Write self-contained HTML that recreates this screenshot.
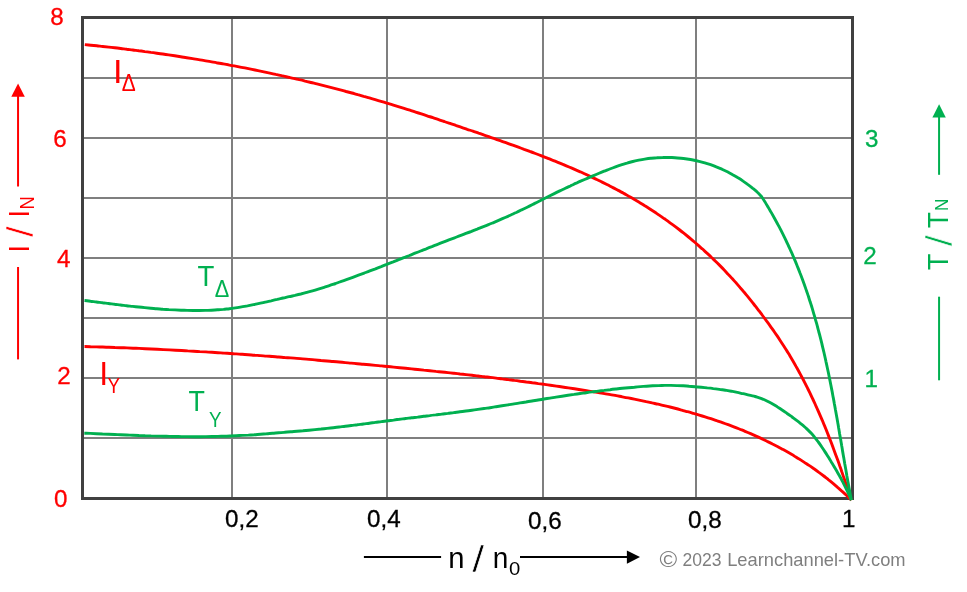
<!DOCTYPE html>
<html lang="de">
<head>
<meta charset="utf-8">
<title>I / I_N und T / T_N über n / n_0</title>
<style>
html,body{margin:0;padding:0;background:#fff;}
body{width:967px;height:592px;overflow:hidden;}
svg{display:block;}
text{font-family:"Liberation Sans",sans-serif;}
</style>
</head>
<body>
<svg width="967" height="592" viewBox="0 0 967 592">
<rect x="0" y="0" width="967" height="592" fill="#ffffff"/>
<!-- grid -->
<g stroke="#7F7F7F" stroke-width="2" fill="none">
<path d="M232 18V498M387 18V498M543 18V498M696 18V498"/>
<path d="M83 78H852M83 138H852M83 198H852M83 258H852M83 318H852M83 378H852M83 438H852"/>
</g>
<!-- frame -->
<rect x="82.5" y="17.5" width="770" height="481" fill="none" stroke="#404040" stroke-width="3"/>
<!-- curves -->
<g fill="none" stroke-width="2.9" stroke-linecap="butt" stroke-linejoin="round">
<path stroke="#FF0000" d="M84.8 44.6C85.8 44.7 88.8 45.0 90.8 45.2C92.8 45.4 94.8 45.6 96.8 45.8C98.8 46.0 100.8 46.3 102.8 46.5C104.8 46.7 106.8 46.9 108.8 47.1C110.8 47.4 112.8 47.6 114.8 47.8C116.8 48.1 118.8 48.3 120.8 48.5C122.8 48.8 124.8 49.0 126.8 49.3C128.8 49.5 130.8 49.8 132.8 50.0C134.8 50.3 136.8 50.5 138.8 50.8C140.8 51.0 142.8 51.3 144.8 51.6C146.8 51.8 148.8 52.1 150.8 52.4C152.8 52.6 154.8 52.9 156.8 53.2C158.8 53.5 160.8 53.8 162.8 54.0C164.8 54.3 166.7 54.6 168.7 54.9C170.7 55.2 172.7 55.5 174.7 55.8C176.7 56.1 178.7 56.4 180.7 56.7C182.7 57.0 184.7 57.4 186.7 57.7C188.6 58.0 190.6 58.3 192.6 58.6C194.6 58.9 196.6 59.3 198.6 59.6C200.6 59.9 202.6 60.3 204.5 60.6C206.5 60.9 208.5 61.3 210.5 61.6C212.5 62.0 214.5 62.3 216.4 62.7C218.4 63.0 220.4 63.4 222.4 63.7C224.4 64.1 226.3 64.5 228.3 64.8C230.3 65.2 232.3 65.6 234.3 65.9C236.2 66.3 238.2 66.7 240.2 67.1C242.2 67.5 244.1 67.8 246.1 68.2C248.1 68.6 250.1 69.0 252.0 69.4C254.0 69.8 256.0 70.2 258.0 70.6C259.9 71.0 261.9 71.4 263.9 71.8C265.8 72.3 267.8 72.7 269.8 73.1C271.8 73.5 273.7 73.9 275.7 74.4C277.7 74.8 279.6 75.2 281.6 75.7C283.6 76.1 285.5 76.5 287.5 77.0C289.4 77.4 291.4 77.9 293.4 78.3C295.3 78.8 297.3 79.2 299.3 79.7C301.2 80.1 303.2 80.6 305.1 81.1C307.1 81.5 309.0 82.0 311.0 82.5C313.0 83.0 314.9 83.4 316.9 83.9C318.8 84.4 320.8 84.9 322.7 85.4C324.7 85.9 326.6 86.4 328.6 86.9C330.5 87.4 332.5 87.9 334.4 88.4C336.4 88.9 338.3 89.4 340.3 89.9C342.2 90.4 344.2 90.9 346.1 91.5C348.1 92.0 350.0 92.5 351.9 93.0C353.9 93.6 355.8 94.1 357.8 94.7C359.7 95.2 361.6 95.7 363.6 96.3C365.5 96.8 367.5 97.4 369.4 97.9C371.3 98.5 373.3 99.1 375.2 99.6C377.1 100.2 379.1 100.8 381.0 101.3C382.9 101.9 384.9 102.5 386.8 103.1C388.7 103.6 390.6 104.2 392.6 104.8C394.5 105.4 396.4 106.0 398.3 106.6C400.3 107.2 402.2 107.8 404.1 108.4C406.0 109.0 408.0 109.6 409.9 110.2C411.8 110.8 413.7 111.5 415.6 112.1C417.5 112.7 419.5 113.3 421.4 113.9C423.3 114.6 425.2 115.2 427.1 115.8C429.0 116.4 431.0 117.1 432.9 117.7C434.8 118.3 436.7 119.0 438.6 119.6C440.5 120.2 442.4 120.9 444.3 121.5C446.2 122.2 448.2 122.8 450.1 123.4C452.0 124.1 453.9 124.7 455.8 125.4C457.7 126.0 459.6 126.7 461.5 127.3C463.4 128.0 465.3 128.6 467.2 129.3C469.1 129.9 471.0 130.6 472.9 131.2C474.8 131.9 476.7 132.5 478.6 133.2C480.5 133.8 482.4 134.5 484.3 135.2C486.2 135.8 488.1 136.5 490.0 137.1C491.9 137.8 493.8 138.4 495.7 139.1C497.6 139.8 499.5 140.4 501.4 141.1C503.3 141.8 505.2 142.4 507.1 143.1C509.0 143.8 510.9 144.5 512.8 145.1C514.7 145.8 516.5 146.5 518.4 147.2C520.3 147.9 522.2 148.6 524.1 149.3C526.0 149.9 527.9 150.6 529.8 151.4C531.6 152.1 533.5 152.8 535.4 153.5C537.3 154.2 539.2 154.9 541.0 155.6C542.9 156.4 544.8 157.1 546.7 157.8C548.6 158.6 550.4 159.3 552.3 160.1C554.2 160.8 556.0 161.6 557.9 162.3C559.8 163.1 561.6 163.9 563.5 164.6C565.4 165.4 567.2 166.2 569.1 167.0C570.9 167.8 572.8 168.6 574.6 169.4C576.5 170.2 578.3 171.0 580.2 171.8C582.0 172.7 583.9 173.5 585.7 174.3C587.5 175.2 589.4 176.0 591.2 176.9C593.0 177.7 594.8 178.6 596.7 179.5C598.5 180.4 600.3 181.2 602.1 182.1C603.9 183.0 605.7 183.9 607.5 184.8C609.3 185.7 611.1 186.7 612.9 187.6C614.7 188.5 616.5 189.5 618.2 190.4C620.0 191.4 621.8 192.3 623.6 193.3C625.3 194.3 627.1 195.3 628.8 196.3C630.6 197.2 632.3 198.2 634.1 199.3C635.8 200.3 637.5 201.3 639.2 202.3C641.0 203.4 642.7 204.4 644.4 205.5C646.1 206.5 647.8 207.6 649.5 208.7C651.2 209.8 652.9 210.9 654.6 212.0C656.2 213.1 657.9 214.2 659.6 215.4C661.2 216.5 662.9 217.6 664.5 218.8C666.2 220.0 667.8 221.1 669.4 222.3C671.0 223.5 672.7 224.7 674.3 225.9C675.9 227.1 677.5 228.3 679.1 229.5C680.7 230.8 682.2 232.0 683.8 233.2C685.4 234.5 687.0 235.8 688.5 237.0C690.1 238.3 691.6 239.6 693.1 240.9C694.7 242.2 696.2 243.5 697.7 244.8C699.2 246.1 700.7 247.5 702.2 248.8C703.7 250.2 705.2 251.5 706.7 252.9C708.2 254.2 709.7 255.6 711.1 257.0C712.6 258.4 714.0 259.8 715.5 261.2C716.9 262.6 718.3 264.0 719.7 265.4C721.2 266.9 722.6 268.3 724.0 269.8C725.4 271.2 726.7 272.7 728.1 274.2C729.5 275.6 730.9 277.1 732.2 278.6C733.6 280.1 734.9 281.6 736.3 283.1C737.6 284.6 738.9 286.1 740.2 287.7C741.6 289.2 742.9 290.7 744.2 292.3C745.5 293.8 746.7 295.4 748.0 296.9C749.3 298.5 750.6 300.1 751.8 301.6C753.1 303.2 754.3 304.8 755.6 306.4C756.8 308.0 758.1 309.6 759.3 311.2C760.5 312.8 761.7 314.4 762.9 316.0C764.1 317.6 765.3 319.2 766.5 320.9C767.7 322.5 768.9 324.1 770.1 325.8C771.2 327.4 772.4 329.0 773.6 330.7C774.7 332.4 775.8 334.0 777.0 335.7C778.1 337.3 779.2 339.0 780.3 340.7C781.4 342.4 782.5 344.1 783.6 345.7C784.7 347.4 785.8 349.1 786.8 350.8C787.9 352.6 789.0 354.3 790.0 356.0C791.0 357.7 792.0 359.4 793.1 361.2C794.1 362.9 795.1 364.7 796.0 366.4C797.0 368.2 798.0 369.9 799.0 371.7C799.9 373.4 800.9 375.2 801.8 377.0C802.8 378.8 803.7 380.5 804.6 382.3C805.5 384.1 806.4 385.9 807.3 387.7C808.2 389.5 809.1 391.3 810.0 393.1C810.8 394.9 811.7 396.8 812.6 398.6C813.4 400.4 814.3 402.2 815.1 404.0C815.9 405.9 816.8 407.7 817.6 409.6C818.4 411.4 819.2 413.2 820.0 415.1C820.8 416.9 821.6 418.8 822.4 420.6C823.1 422.5 823.9 424.4 824.7 426.2C825.5 428.1 826.2 430.0 827.0 431.8C827.7 433.7 828.5 435.6 829.2 437.5C829.9 439.3 830.7 441.2 831.4 443.1C832.1 445.0 832.8 446.9 833.5 448.7C834.2 450.6 834.9 452.5 835.6 454.4C836.3 456.3 837.0 458.2 837.7 460.1C838.4 462.0 839.1 463.9 839.7 465.8C840.4 467.7 841.1 469.6 841.7 471.5C842.4 473.4 843.0 475.3 843.7 477.2C844.4 479.1 845.0 481.0 845.7 482.9C846.3 484.8 846.9 486.7 847.6 488.7C848.2 490.6 848.8 492.5 849.5 494.4C850.1 496.3 851.0 499.1 851.3 500.1"/>
<path stroke="#FF0000" d="M84.5 346.5C85.5 346.5 88.5 346.6 90.6 346.7C92.6 346.7 94.6 346.8 96.6 346.9C98.7 346.9 100.7 347.0 102.7 347.0C104.7 347.1 106.8 347.2 108.8 347.2C110.8 347.3 112.8 347.4 114.9 347.5C116.9 347.5 118.9 347.6 120.9 347.7C122.9 347.8 125.0 347.8 127.0 347.9C129.0 348.0 131.0 348.1 133.1 348.2C135.1 348.3 137.1 348.3 139.1 348.4C141.2 348.5 143.2 348.6 145.2 348.7C147.2 348.8 149.2 348.9 151.3 349.0C153.3 349.1 155.3 349.2 157.3 349.3C159.4 349.4 161.4 349.5 163.4 349.6C165.4 349.7 167.4 349.8 169.5 349.9C171.5 350.0 173.5 350.1 175.5 350.2C177.6 350.3 179.6 350.4 181.6 350.5C183.6 350.6 185.6 350.7 187.7 350.9C189.7 351.0 191.7 351.1 193.7 351.2C195.8 351.3 197.8 351.4 199.8 351.6C201.8 351.7 203.8 351.8 205.9 351.9C207.9 352.1 209.9 352.2 211.9 352.3C213.9 352.4 216.0 352.6 218.0 352.7C220.0 352.8 222.0 353.0 224.0 353.1C226.1 353.2 228.1 353.4 230.1 353.5C232.1 353.6 234.1 353.8 236.2 353.9C238.2 354.0 240.2 354.2 242.2 354.3C244.3 354.5 246.3 354.6 248.3 354.7C250.3 354.9 252.3 355.0 254.4 355.2C256.4 355.3 258.4 355.5 260.4 355.6C262.4 355.8 264.5 355.9 266.5 356.1C268.5 356.2 270.5 356.4 272.5 356.5C274.5 356.7 276.6 356.8 278.6 357.0C280.6 357.2 282.6 357.3 284.6 357.5C286.7 357.6 288.7 357.8 290.7 357.9C292.7 358.1 294.7 358.3 296.8 358.4C298.8 358.6 300.8 358.8 302.8 358.9C304.8 359.1 306.8 359.3 308.9 359.4C310.9 359.6 312.9 359.8 314.9 359.9C316.9 360.1 319.0 360.3 321.0 360.5C323.0 360.6 325.0 360.8 327.0 361.0C329.0 361.2 331.1 361.3 333.1 361.5C335.1 361.7 337.1 361.9 339.1 362.0C341.1 362.2 343.2 362.4 345.2 362.6C347.2 362.8 349.2 362.9 351.2 363.1C353.2 363.3 355.3 363.5 357.3 363.7C359.3 363.9 361.3 364.0 363.3 364.2C365.3 364.4 367.4 364.6 369.4 364.8C371.4 365.0 373.4 365.2 375.4 365.4C377.4 365.6 379.5 365.7 381.5 365.9C383.5 366.1 385.5 366.3 387.5 366.5C389.5 366.7 391.6 366.9 393.6 367.1C395.6 367.3 397.6 367.5 399.6 367.7C401.6 367.9 403.6 368.1 405.7 368.3C407.7 368.5 409.7 368.7 411.7 368.9C413.7 369.1 415.7 369.3 417.7 369.5C419.8 369.7 421.8 369.9 423.8 370.1C425.8 370.3 427.8 370.5 429.8 370.7C431.8 370.9 433.8 371.1 435.9 371.4C437.9 371.6 439.9 371.8 441.9 372.0C443.9 372.2 445.9 372.4 447.9 372.6C449.9 372.9 452.0 373.1 454.0 373.3C456.0 373.5 458.0 373.7 460.0 374.0C462.0 374.2 464.0 374.4 466.0 374.6C468.1 374.9 470.1 375.1 472.1 375.3C474.1 375.5 476.1 375.8 478.1 376.0C480.1 376.2 482.1 376.5 484.1 376.7C486.1 376.9 488.2 377.2 490.2 377.4C492.2 377.7 494.2 377.9 496.2 378.1C498.2 378.4 500.2 378.6 502.2 378.9C504.2 379.1 506.2 379.4 508.2 379.6C510.2 379.9 512.3 380.1 514.3 380.4C516.3 380.6 518.3 380.9 520.3 381.2C522.3 381.4 524.3 381.7 526.3 382.0C528.3 382.2 530.3 382.5 532.3 382.8C534.3 383.0 536.3 383.3 538.3 383.6C540.3 383.8 542.3 384.1 544.4 384.4C546.4 384.7 548.4 385.0 550.4 385.2C552.4 385.5 554.4 385.8 556.4 386.1C558.4 386.4 560.4 386.7 562.4 387.0C564.4 387.3 566.4 387.6 568.4 387.9C570.4 388.2 572.4 388.5 574.4 388.8C576.4 389.1 578.4 389.4 580.4 389.7C582.4 390.0 584.4 390.3 586.4 390.6C588.4 391.0 590.4 391.3 592.4 391.6C594.4 391.9 596.4 392.3 598.4 392.6C600.4 392.9 602.4 393.3 604.4 393.6C606.4 393.9 608.4 394.3 610.4 394.6C612.4 395.0 614.4 395.3 616.4 395.7C618.3 396.1 620.3 396.4 622.3 396.8C624.3 397.2 626.3 397.6 628.3 397.9C630.3 398.3 632.3 398.7 634.3 399.1C636.3 399.5 638.3 399.9 640.2 400.3C642.2 400.7 644.2 401.1 646.2 401.6C648.2 402.0 650.2 402.4 652.2 402.9C654.1 403.3 656.1 403.8 658.1 404.2C660.1 404.7 662.1 405.1 664.0 405.6C666.0 406.1 668.0 406.6 670.0 407.0C671.9 407.5 673.9 408.0 675.9 408.5C677.8 409.1 679.8 409.6 681.7 410.1C683.7 410.6 685.7 411.2 687.6 411.7C689.6 412.2 691.5 412.8 693.5 413.4C695.4 413.9 697.4 414.5 699.3 415.1C701.2 415.7 703.2 416.3 705.1 416.9C707.0 417.5 709.0 418.1 710.9 418.7C712.8 419.4 714.7 420.0 716.7 420.7C718.6 421.3 720.5 422.0 722.4 422.6C724.3 423.3 726.2 424.0 728.1 424.7C730.0 425.4 731.9 426.1 733.8 426.8C735.7 427.6 737.5 428.3 739.4 429.0C741.3 429.8 743.2 430.5 745.0 431.3C746.9 432.1 748.7 432.9 750.6 433.7C752.4 434.5 754.3 435.3 756.1 436.1C758.0 437.0 759.8 437.8 761.6 438.6C763.4 439.5 765.3 440.4 767.1 441.3C768.9 442.1 770.7 443.0 772.5 444.0C774.3 444.9 776.1 445.8 777.9 446.7C779.6 447.7 781.4 448.6 783.2 449.6C785.0 450.6 786.7 451.6 788.5 452.6C790.2 453.6 791.9 454.6 793.7 455.6C795.4 456.7 797.1 457.7 798.8 458.8C800.6 459.9 802.3 461.0 804.0 462.1C805.7 463.2 807.3 464.3 809.0 465.4C810.7 466.5 812.4 467.7 814.0 468.8C815.7 470.0 817.3 471.2 818.9 472.4C820.6 473.6 822.2 474.8 823.8 476.0C825.4 477.3 827.0 478.5 828.6 479.8C830.2 481.0 831.7 482.3 833.3 483.6C834.8 484.9 836.4 486.3 837.9 487.6C839.5 488.9 841.0 490.3 842.5 491.7C844.0 493.0 845.5 494.4 847.0 495.8C848.4 497.2 850.6 499.4 851.4 500.1"/>
<path stroke="#00B050" d="M84.5 300.5C85.5 300.6 88.5 301.0 90.5 301.3C92.5 301.5 94.5 301.8 96.5 302.0C98.5 302.3 100.6 302.5 102.6 302.8C104.6 303.0 106.6 303.3 108.6 303.5C110.6 303.8 112.6 304.0 114.6 304.3C116.6 304.5 118.6 304.8 120.6 305.0C122.6 305.2 124.6 305.5 126.6 305.7C128.7 305.9 130.7 306.2 132.7 306.4C134.7 306.6 136.7 306.8 138.7 307.0C140.7 307.2 142.7 307.4 144.7 307.6C146.8 307.8 148.8 308.0 150.8 308.2C152.8 308.4 154.8 308.5 156.8 308.7C158.8 308.9 160.9 309.0 162.9 309.2C164.9 309.3 166.9 309.4 168.9 309.6C171.0 309.7 173.0 309.8 175.0 309.9C177.0 310.0 179.0 310.1 181.1 310.2C183.1 310.3 185.1 310.3 187.1 310.4C189.2 310.5 191.2 310.5 193.2 310.5C195.2 310.5 197.3 310.5 199.3 310.5C201.3 310.5 203.3 310.5 205.3 310.4C207.4 310.4 209.4 310.3 211.4 310.2C213.4 310.1 215.4 310.0 217.4 309.8C219.4 309.7 221.5 309.5 223.5 309.4C225.5 309.2 227.5 308.9 229.5 308.7C231.5 308.5 233.5 308.2 235.5 307.9C237.5 307.6 239.5 307.3 241.5 306.9C243.5 306.6 245.5 306.2 247.5 305.9C249.4 305.5 251.4 305.1 253.4 304.7C255.4 304.3 257.4 303.9 259.4 303.4C261.3 303.0 263.3 302.6 265.3 302.1C267.3 301.7 269.3 301.2 271.2 300.8C273.2 300.3 275.2 299.8 277.2 299.4C279.1 298.9 281.1 298.5 283.1 298.0C285.1 297.6 287.0 297.1 289.0 296.7C291.0 296.3 293.0 295.8 294.9 295.4C296.9 294.9 298.9 294.4 300.8 294.0C302.8 293.5 304.7 293.0 306.7 292.4C308.6 291.9 310.6 291.4 312.5 290.8C314.4 290.3 316.4 289.7 318.3 289.1C320.3 288.5 322.2 287.9 324.1 287.3C326.0 286.7 328.0 286.0 329.9 285.4C331.8 284.8 333.7 284.1 335.6 283.5C337.5 282.8 339.4 282.1 341.4 281.4C343.3 280.8 345.2 280.1 347.1 279.4C349.0 278.7 350.9 278.0 352.8 277.3C354.7 276.6 356.6 275.9 358.5 275.2C360.4 274.5 362.3 273.8 364.2 273.1C366.0 272.4 367.9 271.7 369.8 270.9C371.7 270.2 373.6 269.5 375.5 268.8C377.4 268.0 379.3 267.3 381.2 266.6C383.0 265.8 384.9 265.1 386.8 264.4C388.7 263.6 390.6 262.9 392.5 262.2C394.3 261.4 396.2 260.7 398.1 259.9C400.0 259.2 401.9 258.5 403.7 257.7C405.6 257.0 407.5 256.2 409.4 255.5C411.3 254.7 413.1 254.0 415.0 253.2C416.9 252.5 418.8 251.8 420.6 251.0C422.5 250.3 424.4 249.5 426.3 248.8C428.2 248.0 430.0 247.3 431.9 246.6C433.8 245.8 435.7 245.1 437.6 244.3C439.5 243.6 441.3 242.9 443.2 242.1C445.1 241.4 447.0 240.7 448.9 239.9C450.8 239.2 452.7 238.5 454.6 237.8C456.4 237.1 458.3 236.3 460.2 235.6C462.1 234.9 464.0 234.2 465.9 233.4C467.8 232.7 469.7 232.0 471.5 231.3C473.4 230.5 475.3 229.8 477.2 229.1C479.1 228.3 481.0 227.6 482.8 226.8C484.7 226.1 486.6 225.4 488.5 224.6C490.3 223.8 492.2 223.1 494.1 222.3C496.0 221.5 497.8 220.7 499.7 219.9C501.5 219.1 503.4 218.3 505.2 217.5C507.1 216.7 508.9 215.9 510.8 215.0C512.6 214.2 514.4 213.3 516.3 212.5C518.1 211.6 519.9 210.7 521.7 209.8C523.6 209.0 525.4 208.1 527.2 207.2C529.0 206.3 530.8 205.4 532.6 204.5C534.4 203.6 536.2 202.6 538.1 201.7C539.9 200.8 541.7 199.9 543.5 199.0C545.3 198.1 547.1 197.2 548.9 196.3C550.7 195.4 552.5 194.5 554.3 193.6C556.2 192.7 558.0 191.8 559.8 190.9C561.6 190.0 563.4 189.2 565.3 188.3C567.1 187.4 568.9 186.6 570.8 185.7C572.6 184.9 574.4 184.0 576.3 183.2C578.1 182.3 579.9 181.5 581.8 180.7C583.6 179.9 585.5 179.1 587.3 178.3C589.2 177.5 591.1 176.7 592.9 175.9C594.8 175.1 596.7 174.3 598.5 173.5C600.4 172.8 602.3 172.0 604.1 171.2C606.0 170.5 607.9 169.7 609.8 169.0C611.7 168.3 613.6 167.6 615.5 166.9C617.4 166.2 619.3 165.5 621.2 164.9C623.1 164.3 625.1 163.6 627.0 163.1C628.9 162.5 630.9 162.0 632.8 161.5C634.8 161.0 636.8 160.6 638.8 160.2C640.7 159.8 642.7 159.4 644.7 159.1C646.7 158.8 648.7 158.5 650.7 158.3C652.8 158.1 654.8 157.9 656.8 157.8C658.8 157.6 660.8 157.5 662.8 157.5C664.9 157.4 666.9 157.4 668.9 157.4C670.9 157.5 673.0 157.6 675.0 157.7C677.0 157.8 679.0 158.0 681.0 158.2C683.0 158.4 685.0 158.7 687.0 159.0C689.0 159.3 691.0 159.6 693.0 160.0C695.0 160.4 697.0 160.8 699.0 161.3C700.9 161.8 702.9 162.3 704.8 162.9C706.8 163.5 708.7 164.1 710.6 164.7C712.5 165.4 714.4 166.1 716.3 166.9C718.2 167.6 720.0 168.4 721.9 169.2C723.7 170.1 725.6 170.9 727.4 171.8C729.2 172.8 731.0 173.7 732.7 174.7C734.5 175.7 736.3 176.7 738.0 177.8C739.7 178.8 741.4 179.9 743.1 181.1C744.8 182.2 746.4 183.4 748.0 184.6C749.7 185.8 751.3 187.0 752.8 188.3C754.4 189.6 756.0 190.8 757.4 192.2C758.9 193.6 760.9 195.9 761.6 196.6C762.1 197.5 763.8 200.1 764.9 201.8C766.0 203.6 767.0 205.4 768.1 207.1C769.1 208.9 770.2 210.7 771.2 212.4C772.2 214.2 773.2 216.0 774.2 217.8C775.2 219.6 776.2 221.4 777.2 223.2C778.2 225.0 779.1 226.8 780.1 228.6C781.0 230.4 781.9 232.3 782.9 234.1C783.8 235.9 784.7 237.8 785.6 239.6C786.4 241.4 787.3 243.3 788.2 245.1C789.0 247.0 789.9 248.8 790.7 250.7C791.6 252.6 792.4 254.4 793.2 256.3C794.0 258.2 794.8 260.0 795.6 261.9C796.4 263.8 797.1 265.7 797.9 267.6C798.7 269.5 799.4 271.4 800.1 273.3C800.9 275.2 801.6 277.1 802.3 279.0C803.0 280.9 803.7 282.8 804.4 284.7C805.1 286.6 805.7 288.6 806.4 290.5C807.1 292.4 807.7 294.4 808.4 296.3C809.0 298.2 809.6 300.2 810.2 302.1C810.9 304.0 811.5 306.0 812.1 307.9C812.7 309.9 813.2 311.8 813.8 313.8C814.4 315.8 815.0 317.7 815.5 319.7C816.1 321.6 816.6 323.6 817.2 325.6C817.7 327.6 818.2 329.5 818.7 331.5C819.3 333.5 819.8 335.4 820.3 337.4C820.8 339.4 821.3 341.4 821.8 343.4C822.2 345.4 822.7 347.3 823.2 349.3C823.7 351.3 824.1 353.3 824.6 355.3C825.0 357.3 825.5 359.3 825.9 361.3C826.4 363.3 826.8 365.3 827.2 367.3C827.6 369.3 828.1 371.3 828.5 373.3C828.9 375.3 829.3 377.3 829.7 379.3C830.1 381.3 830.5 383.3 830.9 385.3C831.3 387.3 831.7 389.4 832.1 391.4C832.5 393.4 832.8 395.4 833.2 397.4C833.6 399.4 834.0 401.4 834.3 403.5C834.7 405.5 835.1 407.5 835.4 409.5C835.8 411.5 836.1 413.5 836.5 415.5C836.9 417.6 837.2 419.6 837.6 421.6C837.9 423.6 838.3 425.6 838.6 427.7C839.0 429.7 839.3 431.7 839.6 433.7C840.0 435.7 840.3 437.8 840.7 439.8C841.0 441.8 841.4 443.8 841.7 445.8C842.1 447.8 842.4 449.9 842.7 451.9C843.1 453.9 843.4 455.9 843.8 457.9C844.1 459.9 844.5 462.0 844.8 464.0C845.2 466.0 845.5 468.0 845.9 470.0C846.2 472.0 846.6 474.0 846.9 476.0C847.3 478.1 847.6 480.1 848.0 482.1C848.4 484.1 848.7 486.1 849.1 488.1C849.5 490.1 849.8 492.1 850.2 494.1C850.6 496.1 851.2 499.1 851.4 500.1"/>
<path stroke="#00B050" d="M84.3 433.2C85.3 433.2 88.3 433.4 90.4 433.4C92.4 433.5 94.4 433.6 96.4 433.7C98.5 433.8 100.5 433.9 102.5 434.0C104.5 434.0 106.6 434.1 108.6 434.2C110.6 434.3 112.6 434.4 114.7 434.5C116.7 434.6 118.7 434.6 120.7 434.7C122.8 434.8 124.8 434.9 126.8 435.0C128.8 435.1 130.9 435.1 132.9 435.2C134.9 435.3 136.9 435.4 139.0 435.5C141.0 435.5 143.0 435.6 145.1 435.7C147.1 435.7 149.1 435.8 151.1 435.9C153.2 435.9 155.2 436.0 157.2 436.1C159.2 436.1 161.3 436.2 163.3 436.2C165.3 436.3 167.3 436.3 169.4 436.4C171.4 436.4 173.4 436.5 175.5 436.5C177.5 436.5 179.5 436.6 181.5 436.6C183.6 436.6 185.6 436.6 187.6 436.6C189.6 436.7 191.7 436.7 193.7 436.7C195.7 436.7 197.7 436.7 199.8 436.7C201.8 436.6 203.8 436.6 205.9 436.6C207.9 436.6 209.9 436.6 211.9 436.5C214.0 436.5 216.0 436.4 218.0 436.4C220.0 436.3 222.1 436.3 224.1 436.2C226.1 436.2 228.1 436.1 230.2 436.0C232.2 435.9 234.2 435.8 236.2 435.7C238.2 435.6 240.3 435.5 242.3 435.4C244.3 435.3 246.3 435.2 248.4 435.1C250.4 434.9 252.4 434.8 254.4 434.7C256.5 434.5 258.5 434.4 260.5 434.2C262.5 434.1 264.5 433.9 266.6 433.8C268.6 433.6 270.6 433.5 272.6 433.3C274.6 433.1 276.7 433.0 278.7 432.8C280.7 432.7 282.7 432.5 284.8 432.3C286.8 432.2 288.8 432.0 290.8 431.8C292.8 431.6 294.9 431.5 296.9 431.3C298.9 431.1 300.9 430.9 302.9 430.8C305.0 430.6 307.0 430.4 309.0 430.2C311.0 430.0 313.0 429.8 315.0 429.6C317.1 429.4 319.1 429.2 321.1 429.0C323.1 428.8 325.1 428.6 327.1 428.4C329.2 428.2 331.2 428.0 333.2 427.7C335.2 427.5 337.2 427.3 339.2 427.0C341.2 426.8 343.2 426.5 345.3 426.3C347.3 426.1 349.3 425.8 351.3 425.5C353.3 425.3 355.3 425.0 357.3 424.8C359.3 424.5 361.3 424.3 363.3 424.0C365.4 423.7 367.4 423.5 369.4 423.2C371.4 422.9 373.4 422.7 375.4 422.4C377.4 422.1 379.4 421.9 381.4 421.6C383.4 421.3 385.5 421.1 387.5 420.8C389.5 420.6 391.5 420.3 393.5 420.1C395.5 419.8 397.5 419.5 399.5 419.3C401.5 419.0 403.5 418.8 405.6 418.5C407.6 418.3 409.6 418.0 411.6 417.8C413.6 417.6 415.6 417.3 417.6 417.1C419.6 416.8 421.7 416.6 423.7 416.3C425.7 416.1 427.7 415.8 429.7 415.6C431.7 415.3 433.7 415.1 435.7 414.9C437.8 414.6 439.8 414.4 441.8 414.1C443.8 413.9 445.8 413.6 447.8 413.4C449.8 413.1 451.8 412.9 453.8 412.6C455.9 412.3 457.9 412.1 459.9 411.8C461.9 411.6 463.9 411.3 465.9 411.0C467.9 410.8 469.9 410.5 471.9 410.2C473.9 410.0 475.9 409.7 477.9 409.4C480.0 409.1 482.0 408.8 484.0 408.5C486.0 408.2 488.0 408.0 490.0 407.7C492.0 407.4 494.0 407.1 496.0 406.7C498.0 406.4 500.0 406.1 502.0 405.8C504.0 405.5 506.0 405.2 508.0 404.9C510.0 404.6 512.0 404.2 514.0 403.9C516.0 403.6 518.0 403.3 520.0 402.9C522.0 402.6 524.0 402.3 526.0 402.0C528.0 401.6 530.0 401.3 532.0 401.0C534.0 400.7 536.0 400.3 538.0 400.0C540.0 399.7 542.0 399.4 544.0 399.0C546.0 398.7 548.0 398.4 550.0 398.1C552.0 397.8 554.0 397.4 556.0 397.1C558.0 396.8 560.0 396.5 562.0 396.2C564.0 395.9 566.0 395.6 568.0 395.3C570.1 395.0 572.1 394.7 574.1 394.4C576.1 394.1 578.1 393.8 580.1 393.5C582.1 393.2 584.1 393.0 586.1 392.7C588.1 392.4 590.1 392.1 592.1 391.9C594.1 391.6 596.1 391.4 598.2 391.1C600.2 390.9 602.2 390.6 604.2 390.4C606.2 390.1 608.2 389.9 610.2 389.7C612.2 389.4 614.3 389.2 616.3 389.0C618.3 388.8 620.3 388.6 622.3 388.3C624.3 388.1 626.4 387.9 628.4 387.7C630.4 387.5 632.4 387.3 634.4 387.2C636.4 387.0 638.5 386.8 640.5 386.6C642.5 386.5 644.5 386.3 646.6 386.2C648.6 386.1 650.6 385.9 652.6 385.8C654.6 385.7 656.7 385.6 658.7 385.6C660.7 385.5 662.7 385.5 664.8 385.4C666.8 385.4 668.8 385.4 670.8 385.4C672.9 385.4 674.9 385.5 676.9 385.6C679.0 385.6 681.0 385.7 683.0 385.8C685.0 385.9 687.1 386.0 689.1 386.2C691.1 386.3 693.1 386.5 695.1 386.7C697.2 386.8 699.2 387.0 701.2 387.2C703.2 387.4 705.2 387.6 707.2 387.9C709.3 388.1 711.3 388.3 713.3 388.6C715.3 388.8 717.3 389.1 719.3 389.4C721.3 389.7 723.3 389.9 725.3 390.2C727.3 390.6 729.3 390.9 731.3 391.2C733.3 391.6 735.3 392.0 737.3 392.4C739.3 392.8 741.2 393.3 743.2 393.7C745.2 394.2 747.2 394.6 749.2 395.1C751.1 395.6 753.1 396.0 755.1 396.5C757.0 397.1 759.0 397.6 760.9 398.3C762.8 399.0 764.6 399.8 766.4 400.7C768.2 401.6 770.0 402.5 771.8 403.5C773.5 404.5 775.3 405.6 777.0 406.6C778.7 407.7 780.4 408.9 782.1 410.0C783.8 411.1 785.4 412.3 787.1 413.5C788.8 414.6 790.4 415.8 792.1 417.0C793.7 418.2 795.4 419.4 797.0 420.7C798.6 421.9 800.2 423.2 801.7 424.4C803.3 425.7 804.8 427.1 806.3 428.4C807.8 429.8 809.2 431.2 810.6 432.6C812.0 434.1 813.3 435.6 814.6 437.2C815.9 438.7 817.1 440.3 818.3 442.0C819.6 443.6 820.7 445.3 821.8 447.0C823.0 448.7 824.1 450.4 825.2 452.1C826.3 453.8 827.4 455.6 828.5 457.3C829.5 459.0 830.6 460.7 831.6 462.5C832.7 464.2 833.7 465.9 834.8 467.7C835.8 469.4 836.8 471.2 837.8 472.9C838.8 474.7 839.8 476.4 840.8 478.2C841.7 480.0 842.7 481.8 843.6 483.6C844.5 485.4 845.4 487.2 846.3 489.0C847.2 490.8 848.1 492.6 848.9 494.5C849.7 496.3 850.9 499.2 851.3 500.1"/>
</g>
<!-- left axis numbers -->
<g fill="#FF0000" stroke="#FF0000" stroke-width="0.3" font-size="24.2px">
<text x="50.2" y="25.1">8</text>
<text x="53.2" y="146.9">6</text>
<text x="57" y="266.9">4</text>
<text x="57.3" y="383.9">2</text>
<text x="54" y="506.9">0</text>
</g>
<!-- right axis numbers -->
<g fill="#00B050" stroke="#00B050" stroke-width="0.3" font-size="24.2px">
<text x="865" y="146.9">3</text>
<text x="863.3" y="264">2</text>
<text x="864.5" y="386.9">1</text>
</g>
<!-- x axis numbers -->
<g fill="#000000" stroke="#000000" stroke-width="0.3" font-size="24.2px">
<text x="225" y="527.3">0,2</text>
<text x="367" y="527.3">0,4</text>
<text x="528" y="529.3">0,6</text>
<text x="688" y="528.1">0,8</text>
<text x="842" y="526.9">1</text>
</g>
<!-- left axis title -->
<g stroke="#FF0000" stroke-width="2" fill="#FF0000">
<line x1="18.05" y1="96" x2="18.05" y2="186.5"/>
<line x1="18.05" y1="267" x2="18.05" y2="359.4"/>
<path d="M18.05 83.4L24.8 96.7H11.3Z" stroke="none"/>
</g>
<g><text transform="translate(28.80 252.47) rotate(-90) scale(0.927 1)" font-size="28.92px" fill="#FF0000">I</text> <text transform="translate(32.94 237.00) rotate(-90) scale(1.057 1)" font-size="36.77px" fill="#FF0000" stroke="#ffffff" stroke-width="0.6">/</text> <text transform="translate(28.80 217.47) rotate(-90) scale(0.927 1)" font-size="28.92px" fill="#FF0000">I</text><text transform="translate(33.50 209.40) rotate(-90) scale(0.897 1)" font-size="20.35px" fill="#FF0000">N</text></g>
<!-- right axis title -->
<g stroke="#00B050" stroke-width="2" fill="#00B050">
<line x1="939.07" y1="117" x2="939.07" y2="174.8"/>
<line x1="939.07" y1="296.7" x2="939.07" y2="380.3"/>
<path d="M939.1 104.2L945.8 117.5H932.4Z" stroke="none"/>
</g>
<g><text transform="translate(948.10 270.10) rotate(-90) scale(0.920 1)" font-size="29.22px" fill="#00B050">T</text> <text transform="translate(951.64 246.20) rotate(-90) scale(1.096 1)" font-size="36.77px" fill="#00B050" stroke="#ffffff" stroke-width="0.6">/</text> <text transform="translate(948.10 227.89) rotate(-90) scale(0.896 1)" font-size="29.22px" fill="#00B050">T</text><text transform="translate(948.10 211.11) rotate(-90) scale(0.910 1)" font-size="18.90px" fill="#00B050">N</text></g>
<!-- x axis title -->
<g stroke="#000000" stroke-width="2" fill="#000000">
<line x1="363.9" y1="557.05" x2="441.1" y2="557.05"/>
<line x1="520" y1="557.1" x2="628" y2="557.1"/>
<path d="M640 557.1L626.9 550.4V563.8Z" stroke="none"/>
</g>
<g><text transform="translate(448.26 567.80) scale(0.970 1)" font-size="30.11px" fill="#000000">n</text> <text transform="translate(472.20 571.64) scale(1.169 1)" font-size="36.63px" fill="#000000" stroke="#ffffff" stroke-width="0.6">/</text> <text transform="translate(492.84 568.00) scale(0.925 1)" font-size="30.29px" fill="#000000">n</text><text transform="translate(509.01 574.82) scale(1.072 1)" font-size="18.93px" fill="#000000">0</text></g>
<!-- copyright -->
<g><text transform="translate(659.44 567.33) scale(1.118 1)" font-size="21.53px" fill="#7F7F7F">©</text> <text y="566" fill="#7F7F7F" font-size="18.4px"><tspan x="682.6" textLength="39" lengthAdjust="spacingAndGlyphs">2023</tspan> <tspan x="727.2" textLength="178.4" lengthAdjust="spacingAndGlyphs">Learnchannel-TV.com</tspan></text></g>
<!-- curve labels -->
<g><text transform="translate(112.93 82.80) scale(1.022 1)" font-size="33.58px" fill="#FF0000">I</text><text transform="translate(121.78 91.00) scale(0.893 1)" font-size="23.40px" fill="#FF0000">Δ</text></g>
<g><text transform="translate(99.23 384.70) scale(0.971 1)" font-size="33.14px" fill="#FF0000">I</text><text transform="translate(107.49 392.90) scale(0.834 1)" font-size="22.53px" fill="#FF0000">Y</text></g>
<g><text transform="translate(197.48 285.90) scale(0.944 1)" font-size="29.22px" fill="#00B050">T</text><text transform="translate(214.65 297.00) scale(0.922 1)" font-size="23.55px" fill="#00B050">Δ</text></g>
<g><text transform="translate(188.50 410.80) scale(0.934 1)" font-size="28.78px" fill="#00B050">T</text><text transform="translate(208.89 426.50) scale(0.839 1)" font-size="22.38px" fill="#00B050">Y</text></g>
</svg>
</body>
</html>
